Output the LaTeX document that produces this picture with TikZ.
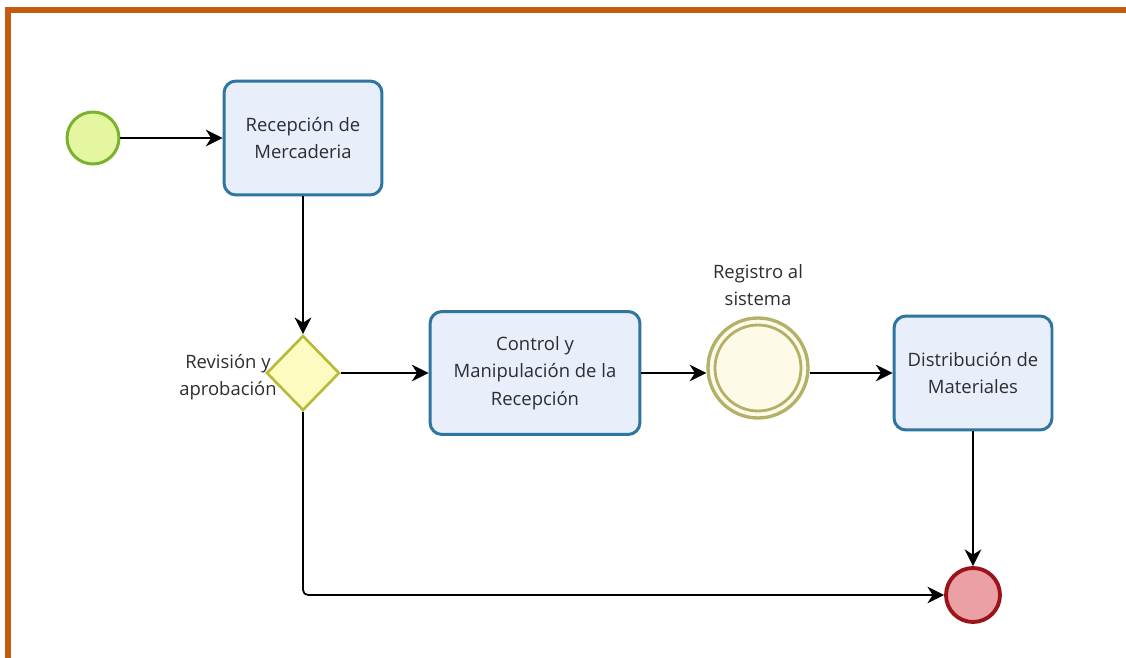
\documentclass[tikz,border=0pt]{standalone}
\usepackage{fontspec}
\setmainfont{Open Sans}
\usepackage{tikz}
\usetikzlibrary{arrows.meta}
\usetikzlibrary{shapes.geometric}

\definecolor{marco}{RGB}{197,90,17}
\definecolor{texto}{RGB}{45,45,50}
\definecolor{tareaborde}{RGB}{46,117,160}
\definecolor{tareafondo}{RGB}{232,238,250}
\definecolor{iniborde}{RGB}{122,178,48}
\definecolor{inifondo}{RGB}{228,246,160}
\definecolor{compborde}{RGB}{184,186,58}
\definecolor{compfondo}{RGB}{253,251,192}
\definecolor{evborde}{RGB}{180,175,105}
\definecolor{evfondo}{RGB}{253,251,232}
\definecolor{finborde}{RGB}{155,20,25}
\definecolor{finfondo}{RGB}{235,160,165}

\begin{document}
\begin{tikzpicture}[x=0.02cm, y=-0.02cm,
	every node/.style={font=\fontsize{10.5}{15.5}\selectfont, text=texto},
	tarea/.style={draw=tareaborde, fill=tareafondo, line width=1.7pt, rounded corners=0.24cm, align=center, inner sep=0pt},
	etiqueta/.style={align=center, inner sep=0pt},
	flecha/.style={-{Stealth[length=9.5pt, width=9.5pt, inset=3pt]}, line width=1pt}]
	\useasboundingbox (0,0) rectangle (1126,658);

	% marco
	\draw [marco, line width=3.4pt] (8,658) -- (8,10) -- (1126,10);

	% eventos y tareas
	\node [circle, draw=iniborde, fill=inifondo, line width=1.7pt, minimum size=1.04cm, inner sep=0pt] (inicio) at (93,138) {};
	\node [tarea, minimum width=3.16cm, minimum height=2.28cm] (recep) at (303,138) {Recepción de\\Mercaderia};
	\node [diamond, draw=compborde, fill=compfondo, line width=1.5pt, minimum width=1.46cm, minimum height=1.5cm, inner sep=0pt] (rev) at (303,373) {};
	\node [etiqueta] (revlbl) at (228,377) {Revisión y\\aprobación};
	\node [tarea, minimum width=4.2cm, minimum height=2.46cm] (control) at (535,373) {Control y\\Manipulación de la\\Recepción};
	\node [circle, draw=evborde, fill=evfondo, line width=1.9pt, minimum size=2cm, inner sep=0pt] (reg) at (758,368) {};
	\draw [evborde, line width=1.6pt] (reg.center) circle (0.86cm);
	\node [etiqueta] (reglbl) at (758,285) {Registro al\\sistema};
	\node [tarea, minimum width=3.16cm, minimum height=2.28cm] (distr) at (973,373) {Distribución de\\Materiales};
	\node [circle, draw=finborde, fill=finfondo, line width=2.2pt, minimum size=1.08cm, inner sep=0pt] (fin) at (973,595) {};

	% flujos
	\draw [flecha] (inicio) -- (recep);
	\draw [flecha] (recep) -- (rev);
	\draw [flecha] (rev.east) -- (control.west);
	\draw [flecha] (control.east) -- (control.east -| reg.west);
	\draw [flecha] (reg.east |- distr.west) -- (distr.west);
	\draw [flecha] (distr) -- (fin);
	\draw [flecha, rounded corners=0.1cm] (rev.south) |- (fin.west);
\end{tikzpicture}
\end{document}
